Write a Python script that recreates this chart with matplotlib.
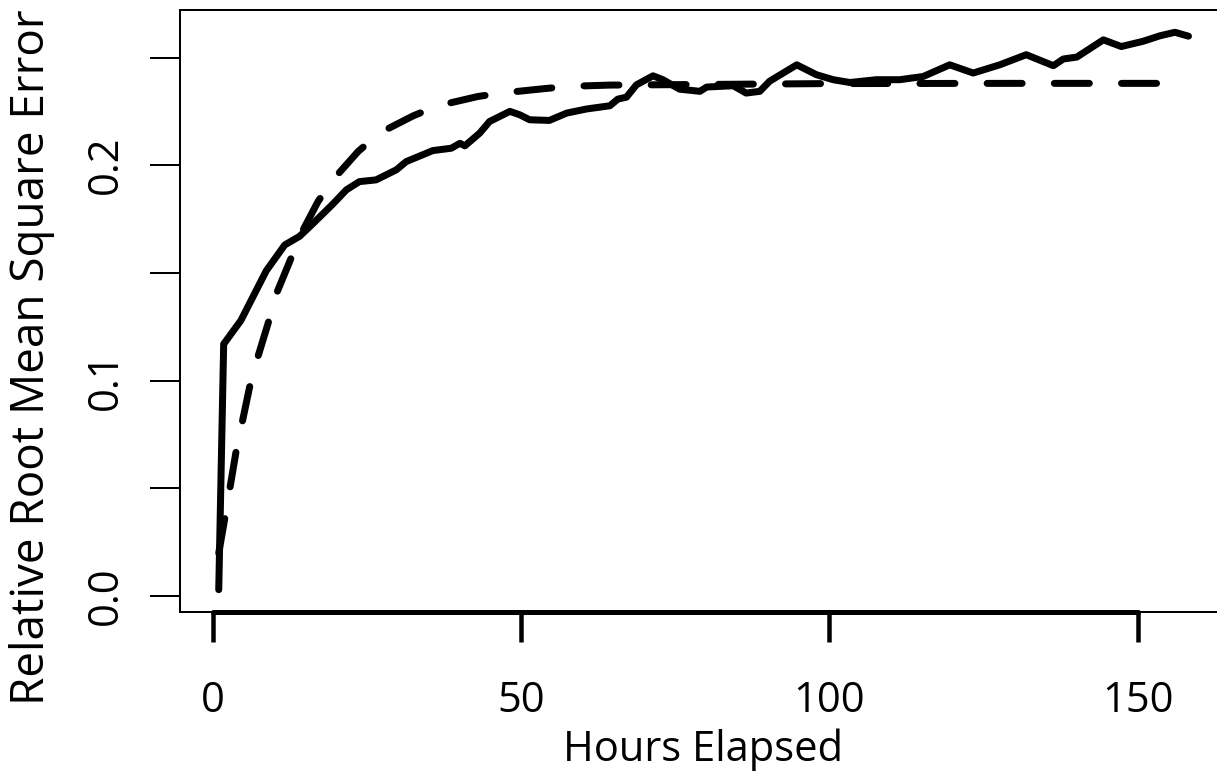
import matplotlib
matplotlib.use("Agg")
import matplotlib.pyplot as plt
from matplotlib.lines import Line2D

# ---- data ----
obs_hours = [1, 1.8, 4.6, 8.7, 11.7, 14.1, 16.3, 19.5, 21.7, 23.8, 26.5, 29.8, 31.4,
             35.7, 38.7, 40.1, 40.9, 43.3, 44.9, 48.2, 49.8, 51.4, 54.6, 57.4, 60.6,
             64.4, 65.7, 67.1, 68.7, 71.4, 73.0, 75.7, 79.0, 80.1, 84.4, 86.5, 88.7,
             90.3, 94.7, 97.9, 100.6, 103.3, 107.6, 111.4, 115.2, 119.5, 123.3, 127.6,
             131.9, 136.3, 137.9, 140.1, 144.4, 147.3, 150.8, 153.6, 156.0, 158.2]
obs_rrmse = [0.003, 0.117, 0.128, 0.151, 0.163, 0.167, 0.173, 0.182, 0.1886, 0.1924,
             0.1932, 0.1979, 0.2017, 0.2068, 0.2079, 0.2102, 0.2090, 0.2149, 0.2203,
             0.2250, 0.2234, 0.2211, 0.2208, 0.2242, 0.2261, 0.2276, 0.2307, 0.2316,
             0.2373, 0.2415, 0.2397, 0.2353, 0.2343, 0.2363, 0.2369, 0.2335, 0.2343,
             0.2390, 0.2466, 0.2420, 0.2397, 0.2384, 0.2397, 0.2397, 0.2412, 0.2466,
             0.2428, 0.2466, 0.2513, 0.2462, 0.2493, 0.2502, 0.2582, 0.2551, 0.2575,
             0.2601, 0.2617, 0.2599]

fit_hours = [1, 2.1, 3.8, 6.0, 7.1, 9.0, 10.05, 12.5, 14.4, 17.1, 19.5, 23.6, 27.1,
             32.5, 36.5, 43.0, 46.8, 53.6, 57.6, 64.4, 80, 100, 130, 158]
fit_rrmse = [0.020, 0.038, 0.067, 0.097, 0.1088, 0.1266, 0.1383, 0.1553, 0.1685,
             0.1832, 0.1932, 0.2064, 0.2150, 0.2229, 0.2276, 0.2319, 0.2335, 0.2355,
             0.2366, 0.2372, 0.2375, 0.2379, 0.2380, 0.2380]

x_ticks = [0, 50, 100, 150]
y_ticks = [0.0, 0.05, 0.1, 0.15, 0.2, 0.25]
y_ticklabels = ["0.0", "", "0.1", "", "0.2", ""]

FONT = "Open Sans"
plt.rcParams['font.family'] = [FONT, 'DejaVu Sans']

W, H = 1217, 776
fig = plt.figure(figsize=(W / 100, H / 100), dpi=100)
left, right, bottom, top = 180, 1226, 612, 10
ax = fig.add_axes([left / W, (H - bottom) / H, (right - left) / W, (bottom - top) / H])

px = 72 / 100  # points per pixel
lw_data = 7 * px
ax.plot(obs_hours, obs_rrmse, color='black', lw=lw_data, solid_capstyle='round',
        solid_joinstyle='round')
ax.plot(fit_hours, fit_rrmse, color='black', lw=lw_data, dashes=(5.0, 4.6),
        dash_capstyle='round', dash_joinstyle='round')

# R-like extended limits (4%)
xmin, xmax = 1, 158
ymin, ymax = 0.003, 0.2617
xr, yr = xmax - xmin, ymax - ymin
ax.set_xlim(xmin - 0.04 * xr, xmax + 0.04 * xr)
ax.set_ylim(ymin - 0.04 * yr, ymax + 0.04 * yr)

for s in ['left', 'top', 'right']:
    ax.spines[s].set_linewidth(2 * px)
ax.spines['bottom'].set_bounds(x_ticks[0], x_ticks[-1])
ax.spines['bottom'].set_linewidth(5 * px)
ax.spines['bottom'].set_capstyle('round')
# thin box bottom
ax.add_line(Line2D([0, 1], [0, 0], transform=ax.transAxes, color='black',
                   lw=2 * px, clip_on=False))

ax.set_xticks(x_ticks)
ax.set_xticklabels([str(t) for t in x_ticks])
ax.set_yticks(y_ticks)
ax.set_yticklabels(y_ticklabels)

fs = 30
ax.tick_params(axis='x', length=30 * px, width=4.5 * px, pad=38 * px, labelsize=fs,
               direction='out')
ax.tick_params(axis='y', length=30 * px, width=2 * px, pad=23 * px, labelsize=fs,
               direction='out', labelrotation=90)
for lab in ax.get_yticklabels():
    lab.set_verticalalignment('center')

ax.set_xlabel("Hours Elapsed", fontsize=fs, labelpad=5)
fig.text(32 / W, 1 - 357 / H, "Relative Root Mean Square Error", rotation=90,
         ha='center', va='center', fontsize=33)

fig.savefig("out.png", dpi=100)
